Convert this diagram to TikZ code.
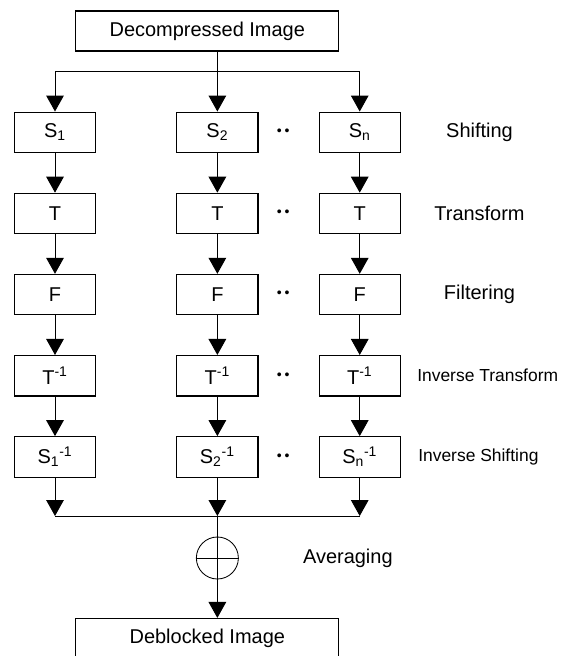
\documentclass[tikz,border=0pt]{standalone}
\usepackage{fontspec}
\setmainfont{Liberation Sans}
\usetikzlibrary{arrows.meta, positioning}

\begin{document}
\begin{tikzpicture}[
    x=0.025cm, y=-0.025cm,
    box/.style={rectangle, draw, line width=0.8pt, minimum width=2.03cm, minimum height=1.01cm, inner sep=0pt, text centered, font=\fontsize{14.2}{17}\selectfont},
    widebox/.style={box, minimum width=6.575cm, minimum height=1cm},
    lbl/.style={font=\fontsize{14.2}{17}\selectfont, inner sep=0pt},
    sublbl/.style={font=\fontsize{12.4}{15}\selectfont, inner sep=0pt, anchor=west},
    dotpair/.style={font=\fontsize{10}{12}\selectfont, inner sep=0pt},
    arrow/.style={-{Triangle[width=0.44cm, length=0.4cm]}, line width=0.7pt},
    wire/.style={line width=0.7pt}
]
    \useasboundingbox (0,0) rectangle (564,656);
    \clip (0,0) rectangle (564,656);

    % Input and output
    \node[widebox] (dec) at (207.3,31) {Decompressed Image};
    \node[widebox] (deb) at (207.3,638.5) {Deblocked Image};

    % Shifting row
    \node[box] (s1) at (55,132.3) {S\textsubscript{1}};
    \node[box, right=2cm of s1] (s2) {S\textsubscript{2}};
    \node[box, right=1.5cm of s2] (sn) {S\textsubscript{n}};

    % Transform row
    \node[box, below=0.99cm of s1] (t1) {T};
    \node[box, below=0.99cm of s2] (t2) {T};
    \node[box, below=0.99cm of sn] (tn) {T};

    % Filtering row
    \node[box, below=0.99cm of t1] (f1) {F};
    \node[box, below=0.99cm of t2] (f2) {F};
    \node[box, below=0.99cm of tn] (fn) {F};

    % Inverse transform row
    \node[box, below=0.99cm of f1] (ti1) {T\textsuperscript{-1}};
    \node[box, below=0.99cm of f2] (ti2) {T\textsuperscript{-1}};
    \node[box, below=0.99cm of fn] (tin) {T\textsuperscript{-1}};

    % Inverse shifting row
    \node[box, below=0.99cm of ti1] (si1) {S\textsubscript{1}\textsuperscript{-1}};
    \node[box, below=0.99cm of ti2] (si2) {S\textsubscript{2}\textsuperscript{-1}};
    \node[box, below=0.99cm of tin] (sin) {S\textsubscript{n}\textsuperscript{-1}};

    % Dots between columns
    \node[dotpair, right=0.45cm of s2] (d1) {\textbullet\hspace{2pt}\textbullet};
    \node[dotpair, right=0.45cm of t2] (d2) {\textbullet\hspace{2pt}\textbullet};
    \node[dotpair, right=0.45cm of f2] (d3) {\textbullet\hspace{2pt}\textbullet};
    \node[dotpair, right=0.45cm of ti2] (d4) {\textbullet\hspace{2pt}\textbullet};
    \node[dotpair, right=0.45cm of si2] (d5) {\textbullet\hspace{2pt}\textbullet};

    % Averaging
    \coordinate (fork) at (s2 |- 0,71);
    \coordinate (join) at (s2 |- 0,516);
    \node[draw, circle, minimum size=1.05cm, inner sep=0pt, line width=0.6pt] (sum) at (s2 |- 0,558) {};

    % Arrows
    \draw[wire] (dec.south -| fork) -- (fork);
    \draw[arrow] (fork) -- (s2);
    \draw[arrow] (fork) -| (s1);
    \draw[arrow] (fork) -| (sn);

    \draw[arrow] (s1) -- (t1);
    \draw[arrow] (t1) -- (f1);
    \draw[arrow] (f1) -- (ti1);
    \draw[arrow] (ti1) -- (si1);
    \draw[arrow] (s2) -- (t2);
    \draw[arrow] (t2) -- (f2);
    \draw[arrow] (f2) -- (ti2);
    \draw[arrow] (ti2) -- (si2);
    \draw[arrow] (sn) -- (tn);
    \draw[arrow] (tn) -- (fn);
    \draw[arrow] (fn) -- (tin);
    \draw[arrow] (tin) -- (sin);

    \draw[arrow] (si1) -- (si1 |- join);
    \draw[arrow] (si2) -- (join);
    \draw[arrow] (sin) -- (sin |- join);
    \draw[wire] (si1 |- join) -- (sin |- join);
    \draw[wire] (join) -- (sum);
    \draw[wire] (sum.north) -- (sum.south) (sum.west) -- (sum.east);
    \draw[arrow] (sum) -- (deb.north -| sum);

    % Stage labels
    \node[lbl] (lshift) at (sn -| 479.5,0) {Shifting};
    \node[lbl] (ltrans) at (tn -| 479.5,0) {Transform};
    \node[lbl] (lfilt) at (fn -| 479.5,0) {Filtering};
    \node[sublbl] (linvt) at (tin -| 417,0) {Inverse Transform};
    \node[sublbl] (linvs) at (sin -| 418,0) {Inverse Shifting};
    \node[lbl, right=1.6cm of sum] (lavg) {Averaging};
\end{tikzpicture}
\end{document}
